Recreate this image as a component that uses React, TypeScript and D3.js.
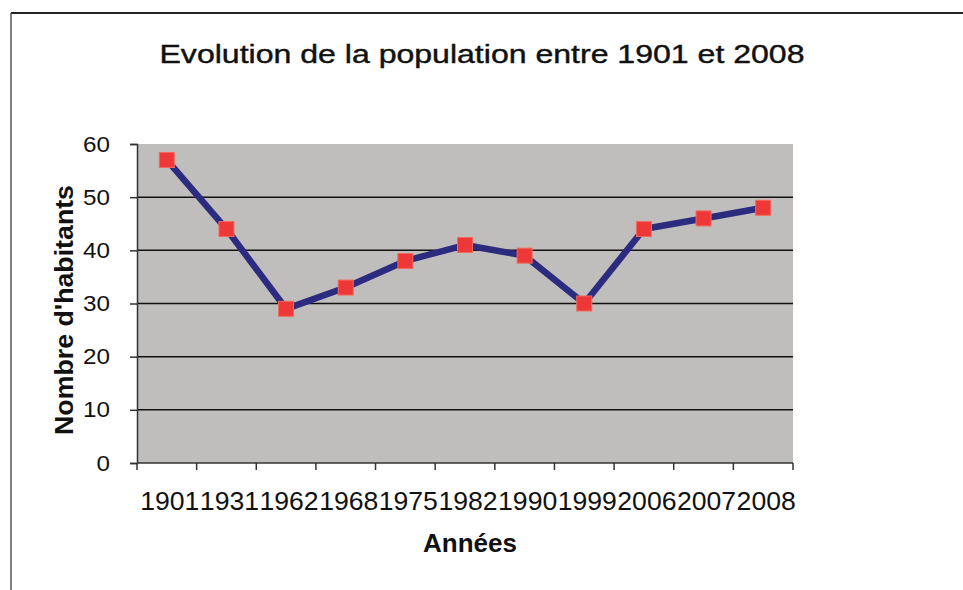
import React, {useEffect, useRef} from 'react';
import * as d3 from 'd3';

// chart data
const years = ['1901', '1931', '1962', '1968', '1975', '1982', '1990', '1999', '2006', '2007', '2008'];
const habitants = [57, 44, 29, 33, 38, 41, 39, 30, 44, 46, 48];
const yTicks = [0, 10, 20, 30, 40, 50, 60];

const width = 963;
const height = 590;
const margin = {top: 144, right: 170, bottom: 127, left: 137};
const font = 'Liberation Sans, Arial, sans-serif';

const App = () => {
    const svgRef = useRef<SVGSVGElement>(null);

    useEffect(() => {
        const svg = d3.select(svgRef.current);
        svg.selectAll('*').remove();

        const x = d3.scaleBand<string>()
            .domain(years)
            .range([margin.left, width - margin.right]);
        const y = d3.scaleLinear()
            .domain([0, 60])
            .range([height - margin.bottom, margin.top]);

        // outer frame of the chart
        svg.append('line')
            .attr('x1', 11).attr('x2', width).attr('y1', 13).attr('y2', 13)
            .attr('stroke', '#222').attr('stroke-width', 2);
        svg.append('line')
            .attr('x1', 11).attr('x2', 11).attr('y1', 13).attr('y2', height)
            .attr('stroke', '#555').attr('stroke-width', 1.5);

        // grey plot area
        svg.append('rect')
            .attr('x', margin.left)
            .attr('y', y(60))
            .attr('width', width - margin.left - margin.right)
            .attr('height', y(0) - y(60))
            .attr('fill', '#c0bebc');

        // horizontal grid lines
        svg.append('g')
            .selectAll('line')
            .data(yTicks.filter(d => d > 0 && d < 60))
            .join('line')
            .attr('x1', margin.left)
            .attr('x2', width - margin.right)
            .attr('y1', d => y(d))
            .attr('y2', d => y(d))
            .attr('stroke', '#111')
            .attr('stroke-width', 1.5);

        // y axis
        const yAxis = svg.append('g')
            .attr('transform', `translate(${margin.left},0)`)
            .call(d3.axisLeft(y).tickValues(yTicks).tickSize(7).tickPadding(20));
        yAxis.select('.domain').attr('stroke', '#333').attr('stroke-width', 1.5);
        yAxis.selectAll('.tick line').attr('stroke', '#333').attr('stroke-width', 1.5);
        yAxis.selectAll('.tick text')
            .attr('font-family', font)
            .attr('font-size', 22)
            .attr('text-anchor', 'end')
            .attr('textLength', (d: any) => String(d).length * 13.5)
            .attr('lengthAdjust', 'spacingAndGlyphs')
            .attr('fill', '#111');

        // x axis, ticks on the category boundaries
        const xAxis = svg.append('g')
            .attr('transform', `translate(0,${y(0)})`);
        xAxis.append('line')
            .attr('x1', margin.left).attr('x2', width - margin.right)
            .attr('stroke', '#333').attr('stroke-width', 1.5);
        const bounds = years.map(d => x(d) as number).concat([width - margin.right]);
        xAxis.selectAll('line.tk')
            .data(bounds)
            .join('line')
            .attr('class', 'tk')
            .attr('x1', d => d).attr('x2', d => d)
            .attr('y1', 0).attr('y2', 7)
            .attr('stroke', '#333').attr('stroke-width', 1.5);
        xAxis.selectAll('text')
            .data(years)
            .join('text')
            .attr('x', d => (x(d) as number) + x.bandwidth() / 2 + 3)
            .attr('y', 47)
            .attr('text-anchor', 'middle')
            .attr('font-family', font)
            .attr('font-size', 25)
            .attr('textLength', x.bandwidth() - 0.5)
            .attr('lengthAdjust', 'spacingAndGlyphs')
            .attr('fill', '#111')
            .text(d => d);

        // line + markers
        const line = d3.line<number>()
            .x((d, i) => (x(years[i]) as number) + x.bandwidth() / 2)
            .y(d => y(d));
        svg.append('path')
            .datum(habitants)
            .attr('d', line)
            .attr('fill', 'none')
            .attr('stroke', '#2b2b80')
            .attr('stroke-width', 6.5)
            .attr('stroke-linejoin', 'round');

        const ms = 15;
        svg.append('g')
            .selectAll('rect')
            .data(habitants)
            .join('rect')
            .attr('x', (d, i) => (x(years[i]) as number) + x.bandwidth() / 2 - ms / 2)
            .attr('y', d => y(d) - ms / 2)
            .attr('width', ms)
            .attr('height', ms)
            .attr('fill', '#ee3838')
            .attr('stroke', '#f26a5a')
            .attr('stroke-width', 1);

        // titles
        svg.append('text')
            .attr('x', 482)
            .attr('y', 63)
            .attr('text-anchor', 'middle')
            .attr('font-family', font)
            .attr('font-size', 25)
            .attr('textLength', 645)
            .attr('lengthAdjust', 'spacingAndGlyphs')
            .attr('fill', '#111')
            .attr('stroke', '#111')
            .attr('stroke-width', 0.4)
            .text('Evolution de la population entre 1901 et 2008');

        svg.append('text')
            .attr('x', 470)
            .attr('y', 552)
            .attr('text-anchor', 'middle')
            .attr('font-family', font)
            .attr('font-weight', 'bold')
            .attr('font-size', 26)
            .attr('fill', '#111')
            .text('Années');

        svg.append('text')
            .attr('transform', 'translate(73,310) rotate(-90)')
            .attr('text-anchor', 'middle')
            .attr('font-family', font)
            .attr('font-weight', 'bold')
            .attr('font-size', 25)
            .attr('textLength', 250)
            .attr('lengthAdjust', 'spacingAndGlyphs')
            .attr('fill', '#111')
            .text("Nombre d'habitants");
    }, []);

    return <svg ref={svgRef} width={width} height={height}
                style={{position: 'absolute', left: 0, top: 0, background: '#fff'}}/>;
};

export default App;
